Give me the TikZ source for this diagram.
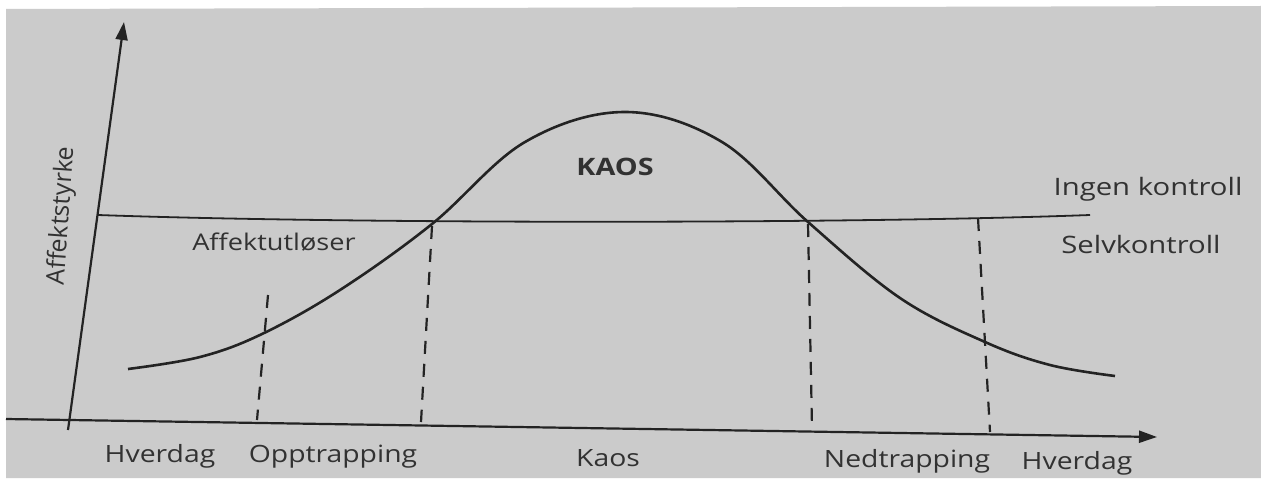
\documentclass[tikz,border=0pt]{standalone}
\usepackage{fontspec}
\setmainfont{Open Sans}
\usetikzlibrary{arrows.meta}
\definecolor{paper}{RGB}{203,203,203}
\definecolor{ink}{RGB}{35,35,35}
\definecolor{txt}{RGB}{50,50,50}
\tikzset{
  axisline/.style={draw=ink, line width=1.1pt, -{Triangle[length=9pt,width=6pt]}},
  curveline/.style={draw=ink, line width=1.3pt},
  limitline/.style={draw=ink, line width=0.9pt},
  phaseline/.style={draw=ink, line width=1.1pt, dash pattern=on 6.5pt off 5pt},
  lbl/.style={text=txt, font=\fontsize{11.5}{13}\selectfont, inner sep=0pt, anchor=base},
  phase/.style={text=txt, font=\fontsize{11.9}{14}\selectfont, inner sep=0pt, anchor=base, xscale=1.19},
}
\begin{document}
\begin{tikzpicture}[x=0.5pt,y=-0.5pt]
\fill[white] (0,0) rectangle (1261,481);
\fill[paper] (6,9) -- (1261,6) -- (1261,478) -- (6,478) -- cycle;
\useasboundingbox (0,0) rectangle (1261,481);
% axes
\coordinate (yb) at (68,430);
\coordinate (yt) at (124,22);
\coordinate (xl) at (6,419);
\coordinate (xr) at (1157,437);
\draw[axisline] (yb) -- (yt);
\draw[axisline] (xl) -- (xr);
% control boundary
\coordinate (kl) at (98,215);
\coordinate (kr) at (1090,215);
\draw[limitline] (kl) .. controls (350,224) and (850,224) .. (kr);
% curve
\draw[curveline] plot[smooth, tension=0.6] coordinates {(128,369) (200,357) (262,334) (340,290) (432,224) (525,142) (625,112) (722,142) (808,222) (900,298) (985,342) (1050,365) (1115,376)};
% phase dashed lines
\coordinate (d1t) at (268,295); \coordinate (d1b) at (257,420);
\coordinate (d2t) at (432,226); \coordinate (d2b) at (421,422);
\coordinate (d3t) at (808,224); \coordinate (d3b) at (812,428);
\coordinate (d4t) at (978,218); \coordinate (d4b) at (990,432);
\draw[phaseline] (d1t) -- (d1b);
\draw[phaseline] (d2t) -- (d2b);
\draw[phaseline] (d3t) -- (d3b);
\draw[phaseline] (d4t) -- (d4b);
% labels
\node[text=txt, font=\fontsize{12.5}{14}\selectfont, inner sep=0pt, rotate=86] (ylab) at (62,216) {Affektstyrke};
\node[lbl, font=\fontsize{12}{14}\selectfont\bfseries, xscale=1.2] (kaos) at (615,175) {KAOS};
\node[lbl, font=\fontsize{12}{14}\selectfont, xscale=1.22] (ingen) at (1148,195) {Ingen kontroll};
\node[lbl, font=\fontsize{12}{14}\selectfont, xscale=1.22] (selv) at (1141,253) {Selvkontroll};
\node[lbl, xscale=1.18] (trig) at (274,250) {Affektutløser};
\node[phase] (p1) at (160,462) {Hverdag};
\node[phase] (p2) at (333,462) {Opptrapping};
\node[phase] (p3) at (608,466) {Kaos};
\node[phase] (p4) at (907,467) {Nedtrapping};
\node[phase] (p5) at (1077,469) {Hverdag};
\end{tikzpicture}
\end{document}
